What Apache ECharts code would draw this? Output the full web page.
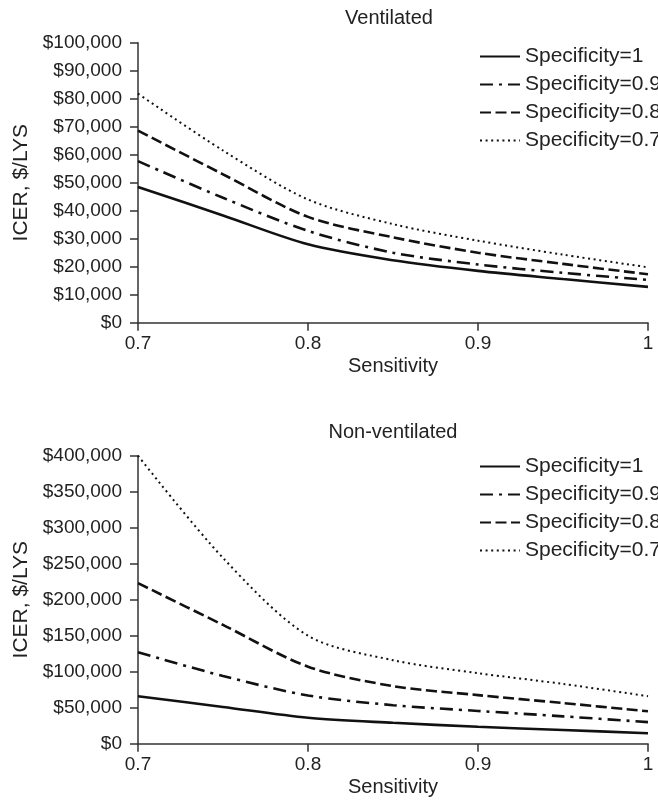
<!DOCTYPE html>
<html>
<head>
<meta charset="utf-8">
<script src="https://cdn.jsdelivr.net/npm/echarts@6/dist/echarts.min.js"></script>
<style>
  html, body { margin: 0; padding: 0; background: #fff; }
  #chart { width: 658px; height: 807px; }
</style>
</head>
<body>
<div id="chart"></div>
<script>
// Sensitivity values (x) shared by both panels
const sensitivity = [0.7, 0.75, 0.8, 0.85, 0.9, 0.95, 1.0];

// Series names, one per specificity level
const seriesNames = ['Specificity=1', 'Specificity=0.9', 'Specificity=0.8', 'Specificity=0.7'];

// Ventilated panel: ICER in $/LYS
const ventSpec1  = [48500, 38300, 28000, 22300, 18500, 15600, 12800];
const ventSpec09 = [57700, 44600, 32800, 25000, 20800, 17800, 15300];
const ventSpec08 = [68600, 53000, 37800, 30500, 25000, 21000, 17300];
const ventSpec07 = [81800, 61500, 44000, 35200, 29300, 24300, 19800];

// Non-ventilated panel: ICER in $/LYS
const nonSpec1  = [66000, 51000, 36000, 29000, 23500, 19000, 14500];
const nonSpec09 = [127000, 94000, 67000, 53500, 45500, 38000, 30000];
const nonSpec08 = [223000, 165000, 107000, 80000, 67500, 56500, 45000];
const nonSpec07 = [400000, 258000, 150000, 116000, 98000, 83000, 66000];

// Panel titles and axis ranges
const panelTitles = ['Ventilated', 'Non-ventilated'];
const yMax = [100000, 400000];
const yStep = [10000, 50000];

const FONT = 'Liberation Sans, Arial, Helvetica, sans-serif';
const INK = '#222';
const LINE = '#111';

// Line look for each specificity level
const lineStyles = [
  { width: 2.6, type: 'solid' },
  { width: 2.6, type: [13, 6, 3, 6] },
  { width: 2.6, type: [11, 4.5] },
  { width: 2, type: [2, 3.6] }
];

const pairs = (ys) => sensitivity.map((x, i) => [x, ys[i]]);
const money = (v) => '$' + v.toLocaleString('en-US');

const panels = [
  [ventSpec1, ventSpec09, ventSpec08, ventSpec07],
  [nonSpec1, nonSpec09, nonSpec08, nonSpec07]
];

const grids = [
  { left: 138, width: 510, top: 42.7, height: 280 },
  { left: 138, width: 510, top: 455.7, height: 288 }
];

const series = [];
panels.forEach((group, p) => {
  group.forEach((ys, k) => {
    series.push({
      type: 'line',
      name: seriesNames[k],
      xAxisIndex: p,
      yAxisIndex: p,
      data: pairs(ys),
      smooth: 0.3,
      symbol: 'none',
      silent: true,
      itemStyle: { color: LINE },
      lineStyle: Object.assign({ color: LINE, cap: 'butt' }, lineStyles[k])
    });
  });
});

const xAxes = grids.map((g, p) => ({
  type: 'value',
  gridIndex: p,
  min: 0.7,
  max: 1,
  interval: 0.1,
  name: 'Sensitivity',
  nameLocation: 'middle',
  nameGap: 34,
  nameTextStyle: { fontFamily: FONT, fontSize: 20, color: INK },
  axisLine: { lineStyle: { color: '#333', width: 1.5 } },
  axisTick: { show: true, length: 8, inside: false, lineStyle: { color: '#333', width: 1.5 } },
  axisLabel: {
    fontFamily: FONT, fontSize: 19, color: INK, margin: 12,
    formatter: (v) => String(Math.round(v * 10) / 10)
  },
  splitLine: { show: false }
}));

const yAxes = grids.map((g, p) => ({
  type: 'value',
  gridIndex: p,
  min: 0,
  max: yMax[p],
  interval: yStep[p],
  name: 'ICER, $/LYS',
  nameLocation: 'middle',
  nameGap: 104,
  nameTextStyle: { fontFamily: FONT, fontSize: 21, color: INK },
  axisLine: { show: true, lineStyle: { color: '#333', width: 1.5 } },
  axisTick: { show: true, length: 8, inside: false, lineStyle: { color: '#333', width: 1.5 } },
  axisLabel: { fontFamily: FONT, fontSize: 19, color: INK, margin: 16, formatter: money },
  splitLine: { show: false }
}));

const legends = [46, 456].map((top) => ({
  orient: 'vertical',
  left: 479,
  top: top,
  padding: 0,
  itemWidth: 40,
  itemHeight: 20,
  itemGap: 7,
  selectedMode: false,
  data: seriesNames,
  itemStyle: { opacity: 0 },
  textStyle: { fontFamily: FONT, fontSize: 21, color: INK, lineHeight: 20 }
}));

const titles = [[389, 8], [393, 422]].map((pos, p) => ({
  text: panelTitles[p],
  left: pos[0],
  top: pos[1],
  padding: 0,
  textAlign: 'center',
  textStyle: { fontFamily: FONT, fontSize: 20, fontWeight: 'normal', color: INK }
}));

const chart = echarts.init(document.getElementById('chart'), null, { renderer: 'canvas' });
chart.setOption({
  animation: false,
  backgroundColor: '#fff',
  title: titles,
  legend: legends,
  grid: grids,
  xAxis: xAxes,
  yAxis: yAxes,
  series: series
});
</script>
</body>
</html>
